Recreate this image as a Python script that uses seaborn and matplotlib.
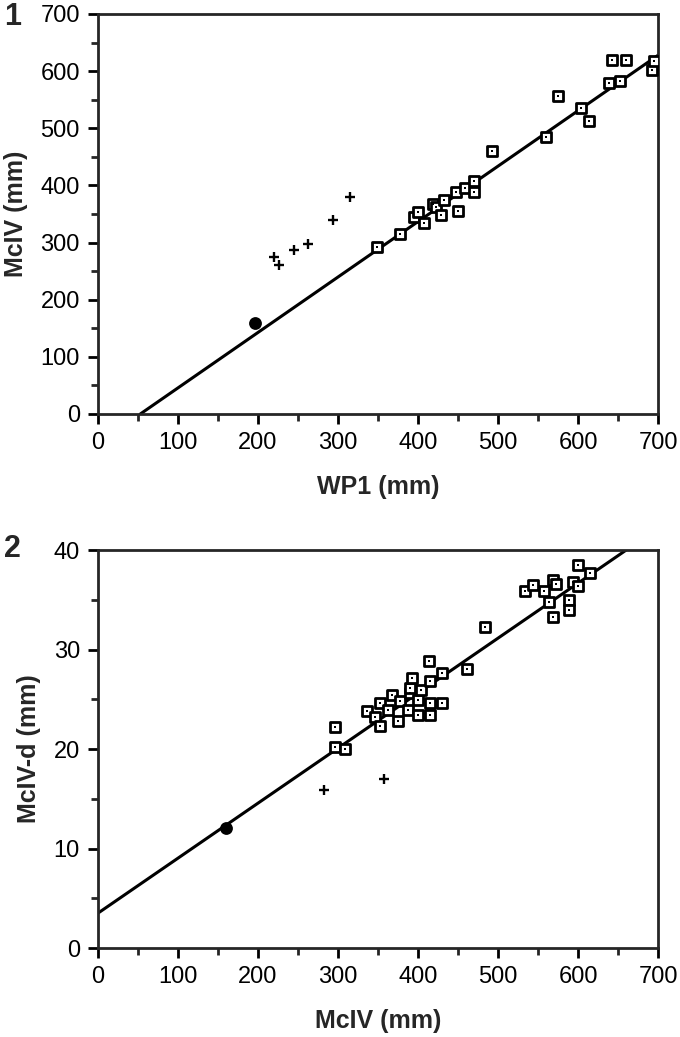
import numpy as np
import pandas as pd
import seaborn as sns
import matplotlib.pyplot as plt
from matplotlib.ticker import MultipleLocator

# Panel 1: WP1 vs McIV
wp1_sq = [349, 378, 395, 400, 407, 418, 422, 428, 432, 447, 450, 459, 470, 470,
          492, 560, 575, 603, 613, 639, 652, 642, 660, 692, 695]
mciv_sq = [293, 315, 345, 353, 334, 367, 362, 348, 374, 388, 356, 395, 388, 407,
           461, 484, 556, 535, 512, 580, 583, 620, 620, 602, 618]
wp1_plus = [220, 226, 245, 263, 294, 315]
mciv_plus = [275, 261, 287, 297, 339, 380]
wp1_dot = [196]
mciv_dot = [160]
fit1_x = [53, 700]
fit1_y = [0, 628]

# Panel 2: McIV vs McIV-d
mciv2_sq = [296, 296, 309, 336, 346, 352, 352, 363, 367, 375, 378, 388, 390, 390,
            392, 400, 400, 403, 413, 415, 415, 415, 430, 430, 461, 483,
            534, 544, 557, 563, 569, 572, 569, 588, 588, 594, 600, 600, 615]
mcivd_sq = [22.2, 20.2, 20.0, 23.8, 23.2, 24.6, 22.3, 23.9, 25.4, 22.8, 24.8, 23.9, 25.6, 26.1,
            27.1, 24.9, 23.4, 25.9, 28.8, 26.8, 24.6, 23.4, 27.6, 24.6, 28.0, 32.3,
            35.9, 36.5, 35.9, 34.8, 37.0, 36.6, 33.3, 35.0, 34.0, 36.8, 36.4, 38.5, 37.7]
mciv2_plus = [283, 357]
mcivd_plus = [15.9, 17.0]
mciv2_dot = [160]
mcivd_dot = [12.1]
fit2_x = [0, 660]
fit2_y = [3.5, 40]

sns.set_style("ticks")
plt.rcParams['font.family'] = ['Liberation Sans', 'DejaVu Sans']

fig = plt.figure(figsize=(6.8, 10.37), dpi=100)
ax1 = fig.add_axes([0.144, 0.6008, 0.824, 0.3857])
ax2 = fig.add_axes([0.144, 0.0858, 0.824, 0.3838])


def draw_panel(ax, sx, sy, px, py, dx, dy, fx, fy):
    sns.lineplot(x=fx, y=fy, ax=ax, color="black", linewidth=2.2, zorder=2)
    sns.scatterplot(x=sx, y=sy, ax=ax, marker="s", s=44, facecolor="white",
                    edgecolor="black", linewidth=2.0, zorder=3)
    sns.scatterplot(x=sx, y=sy, ax=ax, marker="s", s=3, color="black",
                    linewidth=0, zorder=4)
    sns.scatterplot(x=px, y=py, ax=ax, marker="+", s=55, color="black",
                    linewidth=1.7, zorder=3)
    sns.scatterplot(x=dx, y=dy, ax=ax, marker="o", s=85, color="black",
                    linewidth=0, zorder=3)
    for sp in ax.spines.values():
        sp.set_linewidth(2.0)
        sp.set_visible(True)
    ax.tick_params(which="major", direction="out", length=7, width=2,
                   labelsize=17, pad=6, colors="black")
    ax.tick_params(which="minor", direction="out", length=5, width=2)


draw_panel(ax1, wp1_sq, mciv_sq, wp1_plus, mciv_plus, wp1_dot, mciv_dot, fit1_x, fit1_y)
ax1.set_xlim(0, 700)
ax1.set_ylim(0, 700)
ax1.xaxis.set_major_locator(MultipleLocator(100))
ax1.xaxis.set_minor_locator(MultipleLocator(50))
ax1.yaxis.set_major_locator(MultipleLocator(100))
ax1.yaxis.set_minor_locator(MultipleLocator(50))
ax1.set_xlabel("WP1 (mm)", fontsize=18, fontweight="bold", labelpad=15)
ax1.set_ylabel("McIV (mm)", fontsize=18, fontweight="bold", labelpad=9)

draw_panel(ax2, mciv2_sq, mcivd_sq, mciv2_plus, mcivd_plus, mciv2_dot, mcivd_dot, fit2_x, fit2_y)
ax2.set_xlim(0, 700)
ax2.set_ylim(0, 40)
ax2.xaxis.set_major_locator(MultipleLocator(100))
ax2.xaxis.set_minor_locator(MultipleLocator(50))
ax2.yaxis.set_major_locator(MultipleLocator(10))
ax2.yaxis.set_minor_locator(MultipleLocator(5))
ax2.set_xlabel("McIV (mm)", fontsize=18, fontweight="bold", labelpad=15)
ax2.set_ylabel("McIV-d (mm)", fontsize=18, fontweight="bold", labelpad=9)

fig.text(0.019, 0.984, "1", fontsize=22, fontweight="bold", va="center", ha="center")
fig.text(0.019, 0.471, "2", fontsize=22, fontweight="bold", va="center", ha="center")

fig.savefig("out.png", dpi=100)
